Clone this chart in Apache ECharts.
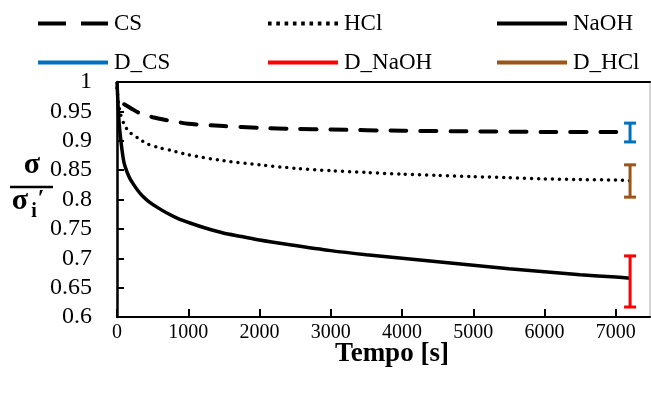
<!DOCTYPE html>
<html>
<head>
<meta charset="utf-8">
<script src="https://cdn.jsdelivr.net/npm/echarts@6/dist/echarts.min.js"></script>
<style>html,body{margin:0;padding:0;background:#fff;}#c{width:651px;height:397px;}</style>
</head>
<body>
<div id="c"></div>
<script>
// Data
const tCS   = [100, 200, 300, 500, 700, 1000, 1500, 2000, 2500, 3000, 4000, 5000, 6000, 7000, 7200];
const vCS   = [0.962, 0.955, 0.948, 0.940, 0.935, 0.929, 0.925, 0.922, 0.920, 0.919, 0.917, 0.916, 0.915, 0.915, 0.915];

const tHCl  = [0, 20, 50, 100, 150, 200, 300, 435, 600, 745, 1000, 1500, 2000, 2500, 3000, 3500, 4000, 4500, 5000, 5500, 6000, 6500, 7000, 7200];
const vHCl  = [0.99, 0.965, 0.945, 0.928, 0.918, 0.912, 0.904, 0.894, 0.888, 0.884, 0.876, 0.866, 0.859, 0.853, 0.849, 0.846, 0.843, 0.841, 0.839, 0.837, 0.835, 0.834, 0.833, 0.832];

const tNaOH = [0, 15, 30, 50, 75, 100, 140, 180, 225, 300, 365, 450, 560, 700, 850, 1025, 1250, 1490, 1750, 2000, 2425, 3000, 3500, 4000, 4500, 5000, 5500, 6000, 6500, 7000, 7200];
const vNaOH = [1.0, 0.96, 0.93, 0.905, 0.88, 0.862, 0.847, 0.836, 0.827, 0.814, 0.805, 0.796, 0.787, 0.777, 0.768, 0.760, 0.751, 0.743, 0.737, 0.731, 0.723, 0.713, 0.706, 0.700, 0.694, 0.688, 0.682, 0.677, 0.672, 0.668, 0.666];

// Deviation bars at the final time
const errNames = ['D_CS', 'D_NaOH', 'D_HCl'];
const errT     = [7200, 7200, 7200];
const errLow   = [0.898, 0.617, 0.804];
const errHigh  = [0.930, 0.704, 0.859];

const FONT = '"Liberation Serif", "Times New Roman", serif';
const errColors = {D_CS: '#0070C0', D_NaOH: '#FF0000', D_HCl: '#9C5418'};

function zip(t, v) { return t.map((x, i) => [x, v[i]]); }

function errSeries(k) {
  return {
    name: errNames[k],
    type: 'custom',
    itemStyle: {color: errColors[errNames[k]]},
    data: [[errT[k], errLow[k], errHigh[k]]],
    z: 5,
    renderItem: function (params, api) {
      const lo = api.coord([api.value(0), api.value(1)]);
      const hi = api.coord([api.value(0), api.value(2)]);
      const c = errColors[errNames[k]];
      const hw = 6;
      const st = {stroke: c, lineWidth: 3};
      return {
        type: 'group',
        children: [
          {type: 'line', shape: {x1: lo[0], y1: lo[1], x2: hi[0], y2: hi[1]}, style: st},
          {type: 'line', shape: {x1: lo[0] - hw, y1: lo[1], x2: lo[0] + hw, y2: lo[1]}, style: st},
          {type: 'line', shape: {x1: hi[0] - hw, y1: hi[1], x2: hi[0] + hw, y2: hi[1]}, style: st}
        ]
      };
    }
  };
}

// legend icon shapes (70 x 4 boxes)
function dotsPath() {
  let p = 'path://';
  for (let i = 0; i < 9; i++) {
    const x = i * 8.3;
    p += 'M' + x.toFixed(1) + ',0h3.6v4h-3.6z';
  }
  return p;
}
const iconDash = 'path://M0,0h28v4h-28zM43,0h27v4h-27z';
const iconSolid = 'path://M0,0h70v4h-70z';

const legendPos = [
  {name: 'CS', left: 38, top: 12},
  {name: 'HCl', left: 268, top: 12},
  {name: 'NaOH', left: 497, top: 12},
  {name: 'D_CS', left: 38, top: 51},
  {name: 'D_NaOH', left: 268, top: 51},
  {name: 'D_HCl', left: 497, top: 51}
];

const legendData = {
  'CS': {name: 'CS', icon: iconDash},
  'HCl': {name: 'HCl', icon: dotsPath()},
  'NaOH': {name: 'NaOH', icon: iconSolid},
  'D_CS': {name: 'D_CS', icon: iconSolid},
  'D_NaOH': {name: 'D_NaOH', icon: iconSolid},
  'D_HCl': {name: 'D_HCl', icon: iconSolid}
};

const option = {
  animation: false,
  backgroundColor: '#fff',
  textStyle: {fontFamily: FONT},
  legend: legendPos.map(p => ({
    data: [legendData[p.name]],
    left: p.left,
    top: p.top,
    itemWidth: 70,
    itemHeight: 4,
    padding: 0,
    selectedMode: false,
    symbolKeepAspect: false,
    textStyle: {fontFamily: FONT, fontSize: 23, color: '#000', padding: [0, 0, 0, 1]}
  })),
  grid: {left: 117, right: 1, top: 82, bottom: 80, show: true, borderColor: '#aaa', borderWidth: 1},
  xAxis: [{
    type: 'value', min: 0, max: 7480, interval: 1000,
    axisLine: {lineStyle: {color: '#000', width: 2}},
    axisTick: {inside: true, length: 8, lineStyle: {color: '#000', width: 2}},
    splitLine: {show: false},
    axisLabel: {fontFamily: FONT, fontSize: 20, color: '#000', margin: 6, showMaxLabel: false,
      formatter: v => (v % 1000 === 0 ? String(v) : '')}
  }, {
    type: 'value', min: 0, max: 7480, position: 'top',
    axisLine: {show: true, lineStyle: {color: '#000', width: 2}},
    axisTick: {show: false}, axisLabel: {show: false}, splitLine: {show: false}
  }],
  yAxis: {
    type: 'value', min: 0.6, max: 1, interval: 0.05,
    axisLine: {show: true, lineStyle: {color: '#000', width: 2.5}},
    axisTick: {show: true, inside: true, length: 7, lineStyle: {color: '#000', width: 2}},
    splitLine: {show: false},
    axisLabel: {fontFamily: FONT, fontSize: 24, color: '#000', margin: 25,
      formatter: v => String(parseFloat(v.toFixed(2)))}
  },
  series: [
    {name: 'CS', type: 'line', data: zip(tCS, vCS), symbol: 'none', smooth: 0.25,
      lineStyle: {color: '#000', width: 4, type: [16, 14], cap: 'round'}, itemStyle: {color: '#000'}, z: 3},
    {name: 'HCl', type: 'line', data: zip(tHCl, vHCl), symbol: 'none', smooth: 0.25,
      lineStyle: {color: '#000', width: 3.5, type: [0, 7], cap: 'round'}, itemStyle: {color: '#000'}, z: 3},
    {name: 'NaOH', type: 'line', data: zip(tNaOH, vNaOH), symbol: 'none', smooth: 0.25,
      lineStyle: {color: '#000', width: 3.5}, itemStyle: {color: '#000'}, z: 3},
    errSeries(0), errSeries(1), errSeries(2)
  ],
  graphic: [
    {type: 'text', x: 32, y: 165, style: {text: 'σ', font: 'bold 30px ' + FONT, fill: '#000', textAlign: 'center', textVerticalAlign: 'middle'}},
    {type: 'line', shape: {x1: 10, y1: 187, x2: 53, y2: 187}, style: {stroke: '#000', lineWidth: 2.5}},
    {type: 'text', x: 20, y: 201, style: {text: 'σ', font: 'bold 30px ' + FONT, fill: '#000', textAlign: 'center', textVerticalAlign: 'middle'}},
    {type: 'text', x: 34, y: 212, style: {text: 'i', font: 'bold 20px ' + FONT, fill: '#000', textAlign: 'center', textVerticalAlign: 'middle'}},
    {type: 'text', x: 41, y: 199, style: {text: '′', font: 'bold 24px ' + FONT, fill: '#000', textAlign: 'center', textVerticalAlign: 'middle'}},
    {type: 'text', x: 392, y: 354, style: {text: 'Tempo [s]', font: 'bold 27px ' + FONT, fill: '#000', textAlign: 'center', textVerticalAlign: 'middle'}}
  ]
};

const chart = echarts.init(document.getElementById('c'), null, {renderer: 'canvas'});
chart.setOption(option);
</script>
</body>
</html>
